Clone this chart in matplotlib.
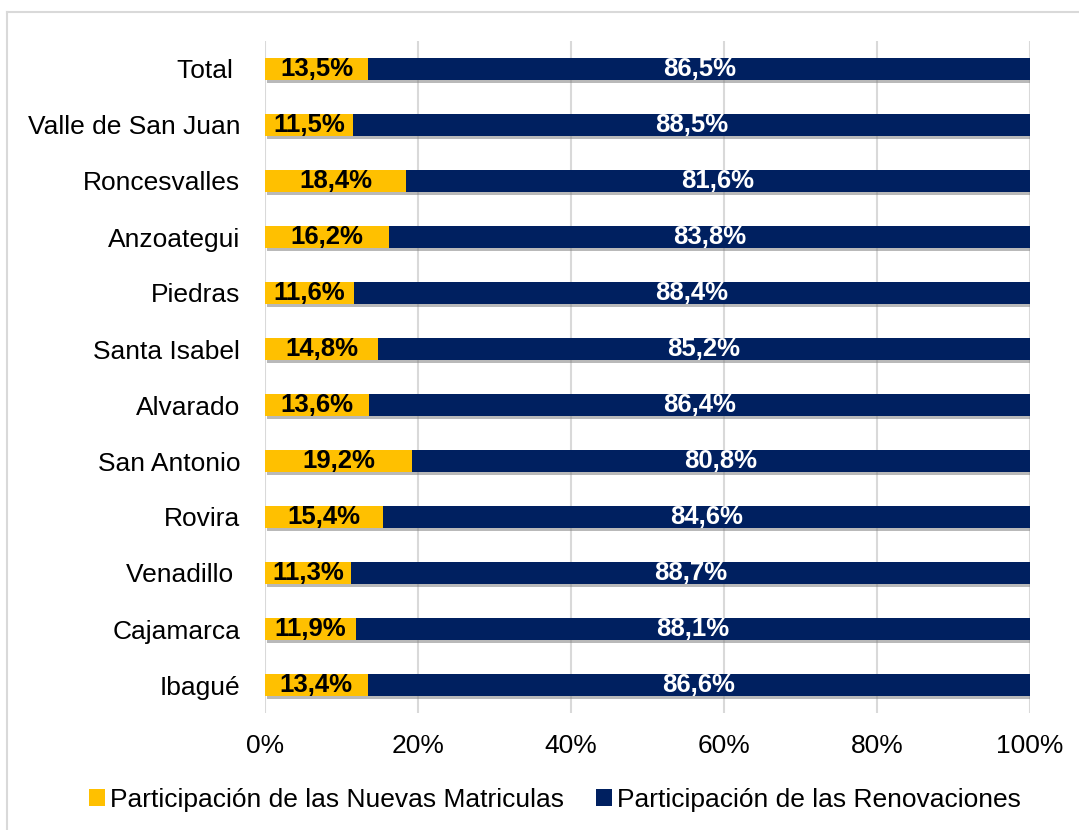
import matplotlib
matplotlib.use("Agg")
import matplotlib.pyplot as plt
import matplotlib.patheffects as pe
from matplotlib.lines import Line2D
import numpy as np

plt.rcParams['font.family'] = ['Liberation Sans', 'DejaVu Sans']

categories = ["Total ", "Valle de San Juan", "Roncesvalles", "Anzoategui", "Piedras",
              "Santa Isabel", "Alvarado", "San Antonio", "Rovira", "Venadillo ",
              "Cajamarca", "Ibagué"]
nuevas = [13.5, 11.5, 18.4, 16.2, 11.6, 14.8, 13.6, 19.2, 15.4, 11.3, 11.9, 13.4]
renovaciones = [86.5, 88.5, 81.6, 83.8, 88.4, 85.2, 86.4, 80.8, 84.6, 88.7, 88.1, 86.6]
xticks = [0, 20, 40, 60, 80, 100]
xtick_labels = ["0%", "20%", "40%", "60%", "80%", "100%"]
series_names = ["Participación de las Nuevas Matriculas", "Participación de las Renovaciones"]

gold = "#FFC000"
navy = "#002060"
fs = 19
fs_bar = 18.5

W, H = 1079, 830
fig = plt.figure(figsize=(W / 100, H / 100), dpi=100)
ax = fig.add_axes([265 / W, 1 - 713 / H, (1030 - 265) / W, (713 - 41) / H])

y = np.arange(len(categories))
h = 0.39
shadow = [pe.SimplePatchShadow(offset=(1.5, -2.5), shadow_rgbFace="#808080", alpha=0.55), pe.Normal()]
b1 = ax.barh(y, nuevas, height=h, color=gold, zorder=3, label=series_names[0])
b2 = ax.barh(y, renovaciones, left=nuevas, height=h, color=navy, zorder=3, label=series_names[1])
for p in list(b1) + list(b2):
    p.set_path_effects(shadow)

for i in range(len(categories)):
    ax.text(nuevas[i] / 2, y[i], f"{nuevas[i]:.1f}%".replace(".", ","), ha="center", va="center",
            fontsize=fs_bar, fontweight="bold", color="black", zorder=5)
    ax.text(nuevas[i] + renovaciones[i] / 2, y[i], f"{renovaciones[i]:.1f}%".replace(".", ","),
            ha="center", va="center", fontsize=fs_bar, fontweight="bold", color="white", zorder=5)

ax.set_xlim(0, 100)
ax.set_ylim(len(categories) - 0.5, -0.5)
ax.set_yticks(y)
ax.set_yticklabels(categories, fontsize=fs)
ax.set_xticks(xticks)
ax.set_xticklabels(xtick_labels, fontsize=fs)
ax.tick_params(axis="both", length=0)
ax.tick_params(axis="y", pad=25 * 0.72)
ax.tick_params(axis="x", pad=15)
for s in ax.spines.values():
    s.set_visible(False)
ax.grid(axis="x", color="#D9D9D9", linewidth=1.5, zorder=0)
ax.set_axisbelow(True)

leg = fig.legend(handles=[b1, b2], loc="center", bbox_to_anchor=(555 / W, 1 - 800 / H), ncol=2,
                 frameon=False, fontsize=fs, handlelength=0.6, handleheight=0.6,
                 handletextpad=0.2, columnspacing=1.2)
for hd in leg.legend_handles:
    hd.set_path_effects([])

# outer frame (only top and left edges visible)
fig.add_artist(Line2D([7 / W, 7 / W], [0, 1 - 12 / H], transform=fig.transFigure, color="#D9D9D9", lw=1.5))
fig.add_artist(Line2D([7 / W, 1], [1 - 12 / H, 1 - 12 / H], transform=fig.transFigure, color="#D9D9D9", lw=1.5))

fig.savefig("out.png", dpi=100, facecolor="white")
